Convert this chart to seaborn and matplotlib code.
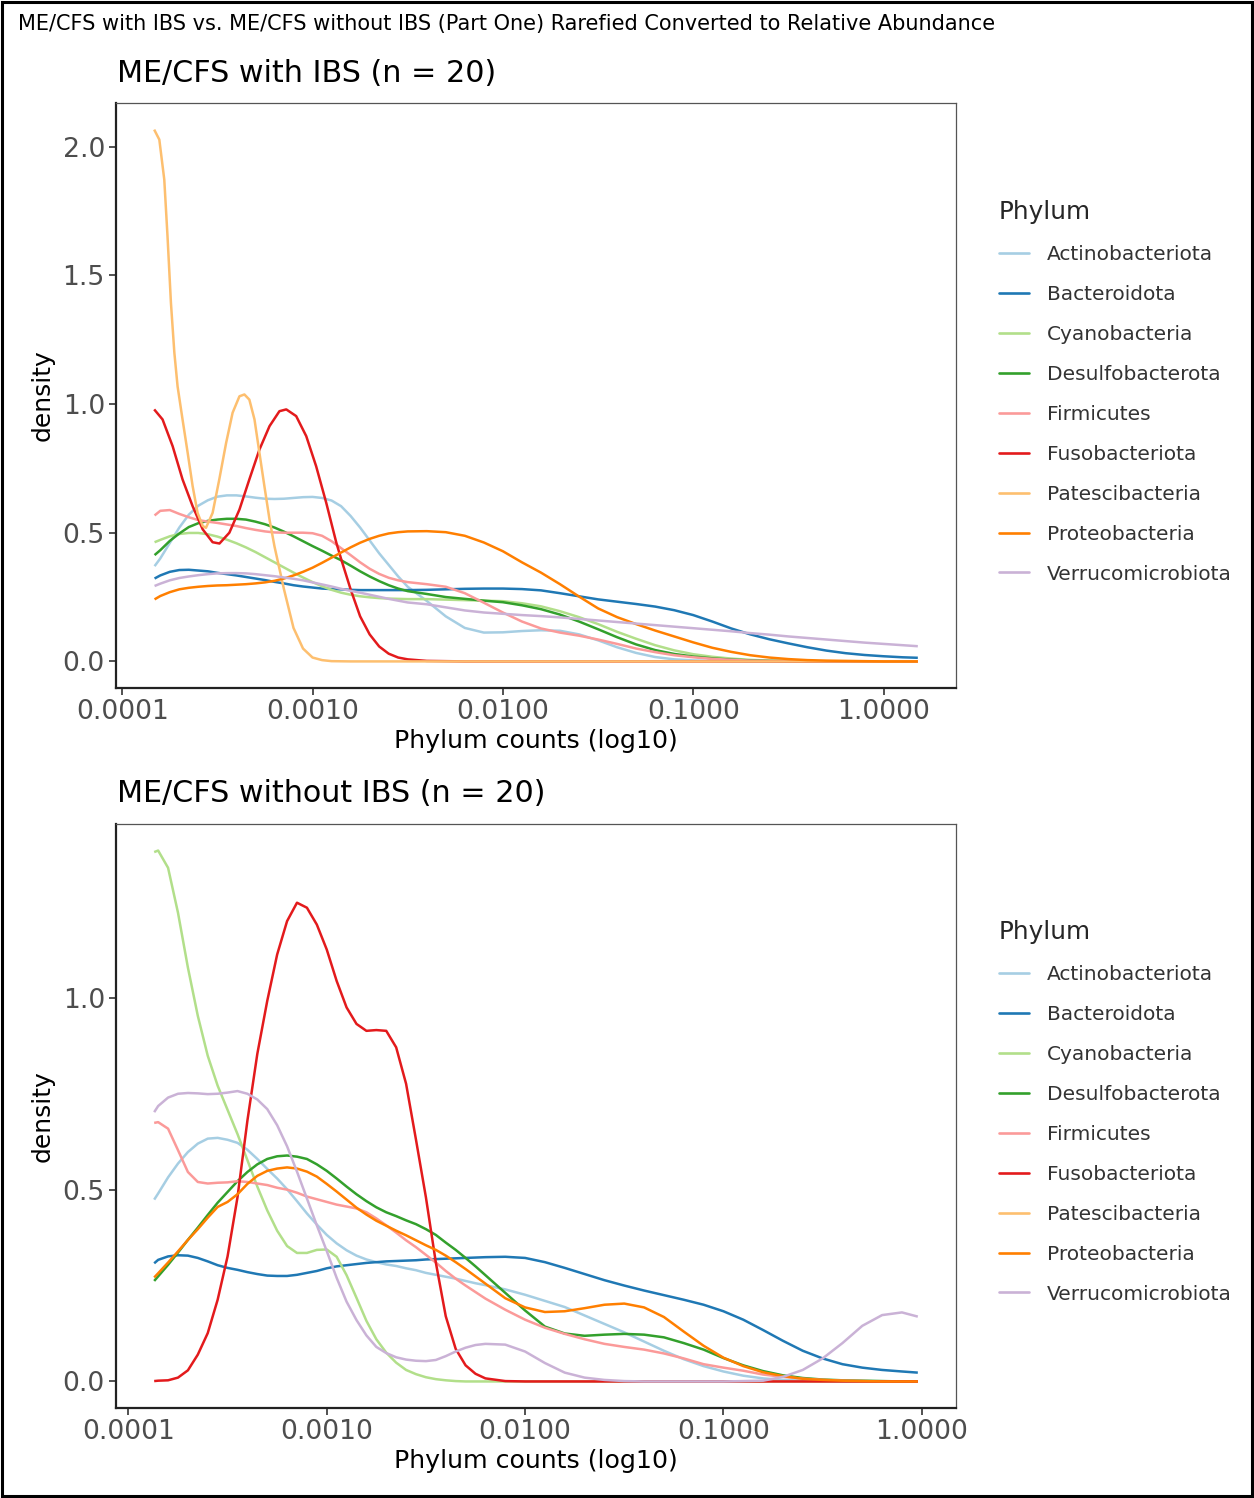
import numpy as np
import pandas as pd
import matplotlib
matplotlib.use("Agg")
import matplotlib.pyplot as plt
import seaborn as sns
from matplotlib.lines import Line2D
from matplotlib.patches import Rectangle
from matplotlib.ticker import NullLocator

# ---------------- data ----------------
PHYLA = ["Actinobacteriota", "Bacteroidota", "Cyanobacteria", "Desulfobacterota",
         "Firmicutes", "Fusobacteriota", "Patescibacteria", "Proteobacteria",
         "Verrucomicrobiota"]
COLORS = ["#A6CEE3", "#1F78B4", "#B2DF8A", "#33A02C", "#FB9A99",
          "#E31A1C", "#FDBF6F", "#FF7F00", "#CAB2D6"]

MAIN_TITLE = "ME/CFS with IBS vs. ME/CFS without IBS (Part One) Rarefied Converted to Relative Abundance"
TOP_TITLE = "ME/CFS with IBS (n = 20)"
BOT_TITLE = "ME/CFS without IBS (n = 20)"
X_LABEL = "Phylum counts (log10)"
Y_LABEL = "density"
X_TICKS = [0.0001, 0.001, 0.01, 0.1, 1.0]
X_TICK_LABELS = ["0.0001", "0.0010", "0.0100", "0.1000", "1.0000"]
TOP_Y_TICKS = [0.0, 0.5, 1.0, 1.5, 2.0]
BOT_Y_TICKS = [0.0, 0.5, 1.0]

# log10 of relative abundance at which densities were read (top panel)
TOP_LOG10_X = [-3.83, -3.80, -3.75, -3.70, -3.65, -3.60, -3.55, -3.50, -3.45, -3.40,
               -3.35, -3.30, -3.25, -3.20, -3.15, -3.10, -3.05, -3.00, -2.95, -2.90,
               -2.85, -2.80, -2.75, -2.70, -2.65, -2.60, -2.55, -2.50, -2.40, -2.30,
               -2.20, -2.10, -2.00, -1.90, -1.80, -1.70, -1.60, -1.50, -1.40, -1.30,
               -1.20, -1.10, -1.00, -0.90, -0.80, -0.70, -0.60, -0.50, -0.40, -0.30,
               -0.20, -0.10, 0.00, 0.10, 0.18]

TOP_ACTINOBACTERIOTA = [0.370, 0.400, 0.460, 0.520, 0.570, 0.605, 0.626, 0.640, 0.645, 0.645,
                        0.641, 0.636, 0.632, 0.631, 0.632, 0.635, 0.638, 0.639, 0.635, 0.625,
                        0.603, 0.565, 0.520, 0.470, 0.420, 0.375, 0.330, 0.290, 0.235, 0.175,
                        0.130, 0.112, 0.113, 0.118, 0.121, 0.119, 0.105, 0.082, 0.055, 0.033,
                        0.017, 0.008, 0.004, 0.002, 0.001, 0.0, 0.0, 0.0, 0.0, 0.0,
                        0.0, 0.0, 0.0, 0.0, 0.0]
TOP_BACTEROIDOTA = [0.322, 0.334, 0.348, 0.355, 0.356, 0.353, 0.350, 0.344, 0.339, 0.334,
                    0.328, 0.322, 0.316, 0.309, 0.303, 0.296, 0.291, 0.287, 0.283, 0.281,
                    0.280, 0.278, 0.277, 0.277, 0.277, 0.277, 0.277, 0.277, 0.278, 0.280,
                    0.282, 0.283, 0.283, 0.281, 0.276, 0.265, 0.253, 0.241, 0.232, 0.223,
                    0.213, 0.199, 0.180, 0.155, 0.128, 0.105, 0.086, 0.070, 0.055, 0.042,
                    0.032, 0.025, 0.020, 0.016, 0.014]
TOP_CYANOBACTERIA = [0.463, 0.472, 0.486, 0.495, 0.499, 0.499, 0.494, 0.485, 0.473, 0.459,
                     0.443, 0.425, 0.405, 0.385, 0.365, 0.345, 0.326, 0.308, 0.292, 0.278,
                     0.267, 0.259, 0.253, 0.249, 0.246, 0.244, 0.243, 0.242, 0.242, 0.240,
                     0.238, 0.236, 0.234, 0.226, 0.214, 0.195, 0.172, 0.145, 0.115, 0.088,
                     0.063, 0.043, 0.028, 0.018, 0.011, 0.006, 0.003, 0.002, 0.001, 0.0,
                     0.0, 0.0, 0.0, 0.0, 0.0]
TOP_DESULFOBACTEROTA = [0.413, 0.432, 0.468, 0.497, 0.522, 0.537, 0.546, 0.551, 0.554, 0.554,
                        0.551, 0.543, 0.533, 0.520, 0.504, 0.486, 0.467, 0.448, 0.430, 0.411,
                        0.393, 0.372, 0.350, 0.330, 0.312, 0.296, 0.283, 0.273, 0.262, 0.250,
                        0.243, 0.236, 0.230, 0.218, 0.203, 0.182, 0.155, 0.125, 0.094, 0.066,
                        0.044, 0.029, 0.019, 0.012, 0.007, 0.004, 0.002, 0.001, 0.0, 0.0,
                        0.0, 0.0, 0.0, 0.0, 0.0]
TOP_FIRMICUTES = [0.567, 0.585, 0.588, 0.573, 0.560, 0.549, 0.543, 0.538, 0.532, 0.526,
                  0.518, 0.511, 0.505, 0.501, 0.500, 0.500, 0.500, 0.498, 0.488, 0.467,
                  0.440, 0.413, 0.385, 0.360, 0.340, 0.325, 0.315, 0.308, 0.300, 0.290,
                  0.265, 0.228, 0.190, 0.155, 0.128, 0.112, 0.100, 0.085, 0.068, 0.050,
                  0.036, 0.024, 0.016, 0.010, 0.006, 0.003, 0.002, 0.001, 0.0, 0.0,
                  0.0, 0.0, 0.0, 0.0, 0.0]
TOP_PROTEOBACTERIA = [0.241, 0.254, 0.269, 0.280, 0.286, 0.290, 0.293, 0.295, 0.296, 0.298,
                      0.300, 0.303, 0.307, 0.313, 0.322, 0.334, 0.348, 0.364, 0.383, 0.403,
                      0.423, 0.443, 0.461, 0.476, 0.488, 0.497, 0.502, 0.505, 0.506, 0.502,
                      0.488, 0.462, 0.428, 0.385, 0.345, 0.300, 0.252, 0.206, 0.172, 0.145,
                      0.120, 0.097, 0.074, 0.053, 0.037, 0.024, 0.015, 0.009, 0.005, 0.003,
                      0.002, 0.001, 0.0, 0.0, 0.0]
TOP_VERRUCOMICROBIOTA = [0.293, 0.302, 0.315, 0.324, 0.330, 0.335, 0.339, 0.342, 0.343, 0.343,
                         0.342, 0.339, 0.335, 0.331, 0.326, 0.321, 0.315, 0.307, 0.299, 0.291,
                         0.282, 0.274, 0.267, 0.259, 0.251, 0.243, 0.236, 0.229, 0.222, 0.210,
                         0.198, 0.190, 0.185, 0.180, 0.176, 0.171, 0.165, 0.159, 0.153, 0.147,
                         0.141, 0.135, 0.129, 0.123, 0.117, 0.110, 0.104, 0.097, 0.091, 0.085,
                         0.079, 0.073, 0.068, 0.063, 0.059]

# sharper curves read at their own, denser positions
TOP_FUSOBACTERIOTA_LOG10_X = [-3.832, -3.788, -3.735, -3.683, -3.630, -3.577, -3.525, -3.489,
                              -3.437, -3.384, -3.332, -3.279, -3.226, -3.174, -3.138, -3.086,
                              -3.033, -2.981, -2.928, -2.875, -2.849, -2.800, -2.750, -2.700,
                              -2.650, -2.600, -2.550, -2.500, -2.400, -2.200, 0.180]
TOP_FUSOBACTERIOTA = [0.979, 0.940, 0.836, 0.707, 0.603, 0.513, 0.463, 0.458,
                      0.500, 0.590, 0.707, 0.823, 0.914, 0.972, 0.979, 0.953,
                      0.875, 0.758, 0.616, 0.461, 0.396, 0.280, 0.175, 0.105,
                      0.058, 0.030, 0.015, 0.008, 0.002, 0.0, 0.0]
TOP_PATESCIBACTERIA_LOG10_X = [-3.832, -3.805, -3.779, -3.762, -3.744, -3.726, -3.709, -3.683,
                               -3.656, -3.630, -3.604, -3.577, -3.560, -3.525, -3.490, -3.454,
                               -3.420, -3.384, -3.358, -3.332, -3.305, -3.279, -3.253, -3.226,
                               -3.200, -3.150, -3.100, -3.050, -3.000, -2.950, -2.900, -2.800,
                               0.180]
TOP_PATESCIBACTERIA = [2.066, 2.027, 1.872, 1.652, 1.393, 1.199, 1.068, 0.940,
                       0.810, 0.681, 0.577, 0.526, 0.519, 0.577, 0.707, 0.849,
                       0.966, 1.030, 1.037, 1.017, 0.940, 0.810, 0.681, 0.551,
                       0.447, 0.280, 0.130, 0.050, 0.015, 0.005, 0.001, 0.0,
                       0.0]

# bottom panel
BOT_LOG10_X = [-3.87, -3.85, -3.80, -3.75, -3.70, -3.65, -3.60, -3.55, -3.50, -3.45,
               -3.40, -3.35, -3.30, -3.25, -3.20, -3.15, -3.10, -3.05, -3.00, -2.95,
               -2.90, -2.85, -2.80, -2.75, -2.70, -2.65, -2.60, -2.55, -2.50, -2.45,
               -2.40, -2.35, -2.30, -2.25, -2.20, -2.10, -2.00, -1.90, -1.80, -1.70,
               -1.60, -1.50, -1.40, -1.30, -1.20, -1.10, -1.00, -0.90, -0.80, -0.70,
               -0.60, -0.50, -0.40, -0.30, -0.20, -0.10, -0.02]

BOT_ACTINOBACTERIOTA = [0.474, 0.490, 0.532, 0.568, 0.598, 0.620, 0.633, 0.635, 0.630, 0.622,
                        0.604, 0.580, 0.554, 0.529, 0.501, 0.470, 0.438, 0.409, 0.382, 0.360,
                        0.342, 0.328, 0.318, 0.311, 0.305, 0.301, 0.295, 0.290, 0.283, 0.278,
                        0.273, 0.268, 0.262, 0.256, 0.251, 0.240, 0.226, 0.210, 0.194, 0.172,
                        0.150, 0.128, 0.104, 0.080, 0.058, 0.040, 0.026, 0.015, 0.008, 0.004,
                        0.002, 0.001, 0.0, 0.0, 0.0, 0.0, 0.0]
BOT_BACTEROIDOTA = [0.308, 0.317, 0.326, 0.329, 0.328, 0.322, 0.313, 0.303, 0.296, 0.291,
                    0.285, 0.280, 0.276, 0.275, 0.275, 0.278, 0.283, 0.288, 0.295, 0.300,
                    0.303, 0.306, 0.309, 0.311, 0.313, 0.314, 0.315, 0.316, 0.318, 0.319,
                    0.320, 0.321, 0.322, 0.323, 0.324, 0.325, 0.322, 0.311, 0.296, 0.280,
                    0.264, 0.250, 0.237, 0.225, 0.213, 0.200, 0.183, 0.161, 0.134, 0.106,
                    0.080, 0.060, 0.045, 0.036, 0.030, 0.026, 0.023]
BOT_CYANOBACTERIA = [1.380, 1.384, 1.339, 1.222, 1.079, 0.953, 0.849, 0.771, 0.708, 0.645,
                     0.577, 0.508, 0.446, 0.393, 0.353, 0.335, 0.335, 0.343, 0.344, 0.325,
                     0.277, 0.218, 0.158, 0.110, 0.075, 0.049, 0.030, 0.019, 0.011, 0.006,
                     0.003, 0.001, 0.0, 0.0, 0.0, 0.0, 0.0, 0.0, 0.0, 0.0,
                     0.0, 0.0, 0.0, 0.0, 0.0, 0.0, 0.0, 0.0, 0.0, 0.0,
                     0.0, 0.0, 0.0, 0.0, 0.0, 0.0, 0.0]
BOT_DESULFOBACTEROTA = [0.262, 0.274, 0.304, 0.336, 0.369, 0.401, 0.434, 0.466, 0.494, 0.522,
                        0.546, 0.566, 0.580, 0.587, 0.589, 0.586, 0.580, 0.566, 0.549, 0.529,
                        0.508, 0.488, 0.470, 0.454, 0.441, 0.431, 0.420, 0.410, 0.397, 0.382,
                        0.362, 0.343, 0.322, 0.300, 0.277, 0.231, 0.185, 0.143, 0.125, 0.119,
                        0.122, 0.124, 0.122, 0.115, 0.100, 0.083, 0.061, 0.042, 0.027, 0.016,
                        0.009, 0.005, 0.003, 0.002, 0.001, 0.0, 0.0]
BOT_FIRMICUTES = [0.674, 0.676, 0.659, 0.603, 0.546, 0.520, 0.516, 0.518, 0.519, 0.522,
                  0.520, 0.516, 0.512, 0.505, 0.500, 0.492, 0.482, 0.475, 0.468, 0.461,
                  0.456, 0.451, 0.441, 0.425, 0.407, 0.388, 0.368, 0.350, 0.330, 0.310,
                  0.288, 0.268, 0.250, 0.233, 0.216, 0.187, 0.161, 0.140, 0.124, 0.110,
                  0.098, 0.090, 0.083, 0.073, 0.060, 0.045, 0.036, 0.028, 0.018, 0.012,
                  0.007, 0.004, 0.002, 0.001, 0.0, 0.0, 0.0]
BOT_FUSOBACTERIOTA = [0.001, 0.002, 0.003, 0.010, 0.029, 0.070, 0.126, 0.213, 0.326, 0.480,
                      0.680, 0.854, 0.992, 1.113, 1.200, 1.248, 1.235, 1.191, 1.126, 1.044,
                      0.975, 0.932, 0.914, 0.916, 0.914, 0.871, 0.776, 0.630, 0.480, 0.310,
                      0.170, 0.085, 0.042, 0.020, 0.008, 0.001, 0.0, 0.0, 0.0, 0.0,
                      0.0, 0.0, 0.0, 0.0, 0.0, 0.0, 0.0, 0.0, 0.0, 0.0,
                      0.0, 0.0, 0.0, 0.0, 0.0, 0.0, 0.0]
BOT_PROTEOBACTERIA = [0.271, 0.282, 0.310, 0.339, 0.369, 0.397, 0.427, 0.455, 0.468, 0.488,
                      0.515, 0.536, 0.549, 0.555, 0.558, 0.555, 0.547, 0.534, 0.515, 0.495,
                      0.474, 0.453, 0.435, 0.419, 0.406, 0.393, 0.381, 0.368, 0.355, 0.343,
                      0.328, 0.311, 0.293, 0.274, 0.255, 0.217, 0.193, 0.181, 0.183, 0.191,
                      0.200, 0.203, 0.193, 0.168, 0.130, 0.093, 0.062, 0.040, 0.024, 0.014,
                      0.007, 0.004, 0.002, 0.001, 0.0, 0.0, 0.0]
BOT_VERRUCOMICROBIOTA = [0.702, 0.718, 0.740, 0.750, 0.752, 0.751, 0.749, 0.750, 0.753, 0.757,
                         0.750, 0.735, 0.710, 0.668, 0.613, 0.547, 0.477, 0.407, 0.340, 0.270,
                         0.208, 0.160, 0.120, 0.090, 0.074, 0.063, 0.057, 0.054, 0.053, 0.056,
                         0.066, 0.078, 0.088, 0.095, 0.098, 0.096, 0.078, 0.048, 0.023, 0.010,
                         0.004, 0.001, 0.0, 0.0, 0.0, 0.0, 0.0, 0.001, 0.002, 0.012,
                         0.030, 0.060, 0.100, 0.145, 0.173, 0.180, 0.169]

TOP_SERIES = {
    "Actinobacteriota": (TOP_LOG10_X, TOP_ACTINOBACTERIOTA),
    "Bacteroidota": (TOP_LOG10_X, TOP_BACTEROIDOTA),
    "Cyanobacteria": (TOP_LOG10_X, TOP_CYANOBACTERIA),
    "Desulfobacterota": (TOP_LOG10_X, TOP_DESULFOBACTEROTA),
    "Firmicutes": (TOP_LOG10_X, TOP_FIRMICUTES),
    "Fusobacteriota": (TOP_FUSOBACTERIOTA_LOG10_X, TOP_FUSOBACTERIOTA),
    "Patescibacteria": (TOP_PATESCIBACTERIA_LOG10_X, TOP_PATESCIBACTERIA),
    "Proteobacteria": (TOP_LOG10_X, TOP_PROTEOBACTERIA),
    "Verrucomicrobiota": (TOP_LOG10_X, TOP_VERRUCOMICROBIOTA),
}
# Patescibacteria has no curve in the lower panel
BOT_SERIES = {
    "Actinobacteriota": (BOT_LOG10_X, BOT_ACTINOBACTERIOTA),
    "Bacteroidota": (BOT_LOG10_X, BOT_BACTEROIDOTA),
    "Cyanobacteria": (BOT_LOG10_X, BOT_CYANOBACTERIA),
    "Desulfobacterota": (BOT_LOG10_X, BOT_DESULFOBACTEROTA),
    "Firmicutes": (BOT_LOG10_X, BOT_FIRMICUTES),
    "Fusobacteriota": (BOT_LOG10_X, BOT_FUSOBACTERIOTA),
    "Proteobacteria": (BOT_LOG10_X, BOT_PROTEOBACTERIA),
    "Verrucomicrobiota": (BOT_LOG10_X, BOT_VERRUCOMICROBIOTA),
}

# ---------------- figure ----------------
sns.set_theme(style="white")
plt.rcParams["font.family"] = ["DejaVu Sans"]

W, H = 1254, 1498
fig = plt.figure(figsize=(W / 100, H / 100), dpi=100)
fig.patch.set_facecolor("white")


def fx(px):
    return px / W


def fy(py):
    return 1 - py / H


palette = dict(zip(PHYLA, COLORS))


def draw_panel(ax, series, yticks):
    rows = []
    for name, (grid, vals) in series.items():
        assert len(vals) == len(grid), (name, len(vals), len(grid))
        for lx, d in zip(grid, vals):
            rows.append({"Phylum": name, "abundance": 10.0 ** lx, "density": d})
    df = pd.DataFrame(rows)
    order = [p for p in PHYLA if p in series]
    sns.lineplot(data=df, x="abundance", y="density", hue="Phylum", hue_order=order,
                 palette=palette, estimator=None, legend=False, linewidth=1.8, ax=ax)
    for ln in ax.get_lines():
        ln.set_solid_joinstyle("round")
        ln.set_solid_capstyle("butt")
    ax.set_xscale("log")
    lx_all = np.log10(df["abundance"].to_numpy())
    lo, hi = lx_all.min(), lx_all.max()
    pad = 0.05 * (hi - lo)
    ax.set_xlim(10 ** (lo - pad), 10 ** (hi + pad))
    ymax = df["density"].max()
    ax.set_ylim(-0.05 * ymax, 1.05 * ymax)
    ax.set_xticks(X_TICKS)
    ax.set_xticklabels(X_TICK_LABELS)
    ax.xaxis.set_minor_locator(NullLocator())
    ax.set_yticks(yticks)
    ax.set_yticklabels([f"{v:.1f}" for v in yticks])
    ax.tick_params(axis="both", which="major", labelsize=19.2, labelcolor="#4D4D4D",
                   color="#333333", length=5, width=1.2, direction="out", pad=3,
                   bottom=True, left=True)
    ax.grid(False)
    for side in ("left", "bottom"):
        ax.spines[side].set_color("#222222")
        ax.spines[side].set_linewidth(1.6)
    for side in ("top", "right"):
        ax.spines[side].set_color("#555555")
        ax.spines[side].set_linewidth(0.9)
    ax.set_xlabel(X_LABEL, fontsize=18.2, labelpad=3.0, color="black")
    ax.set_ylabel(Y_LABEL, fontsize=18, labelpad=5.5, color="black")


ax_top = fig.add_axes([fx(116), fy(688), fx(956) - fx(116), (688 - 103) / H])
ax_bot = fig.add_axes([fx(116), fy(1408), fx(956) - fx(116), (1408 - 824) / H])

draw_panel(ax_top, TOP_SERIES, TOP_Y_TICKS)
draw_panel(ax_bot, BOT_SERIES, BOT_Y_TICKS)

# legends (all phyla listed in both)
for ax, top_px in ((ax_top, 200.0), (ax_bot, 920.0)):
    handles = [Line2D([0], [0], color=palette[p], lw=1.9) for p in PHYLA]
    leg = ax.legend(handles, PHYLA, title="Phylum", loc="upper left",
                    bbox_to_anchor=(fx(999), fy(top_px)), bbox_transform=fig.transFigure,
                    frameon=False, fontsize=14.5, title_fontsize=17.8,
                    handlelength=1.5, handletextpad=0.9, labelspacing=1.04,
                    borderpad=0, borderaxespad=0, alignment="left")
    for t in leg.get_texts():
        t.set_color("#333333")

# titles
fig.text(fx(18), fy(24), MAIN_TITLE, fontsize=15, ha="left", va="center", color="black")
fig.text(fx(117), fy(73), TOP_TITLE, fontsize=21.7, ha="left", va="center", color="black")
fig.text(fx(117), fy(793), BOT_TITLE, fontsize=21.7, ha="left", va="center", color="black")

# outer frame
fig.add_artist(Rectangle((0.0016, 0.0012), 0.9968, 0.9976, transform=fig.transFigure,
                         fill=False, lw=2.2, ec="black"))

fig.savefig("out.png", dpi=100)
